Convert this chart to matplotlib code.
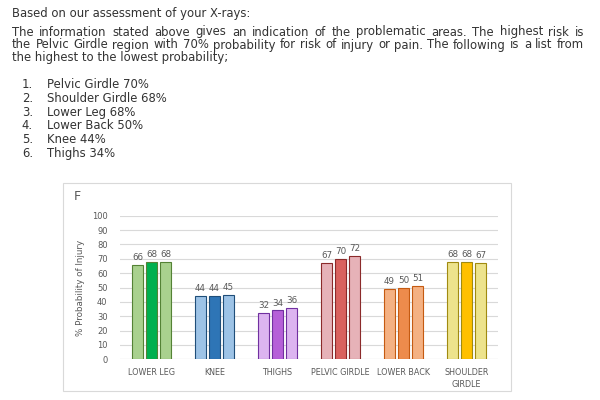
import numpy as np
import matplotlib
matplotlib.use('Agg')
import matplotlib.pyplot as plt
from matplotlib.patches import Rectangle

# 데이터
categories = ['LOWER LEG', 'KNEE', 'THIGHS', 'PELVIC GIRDLE', 'LOWER BACK', 'SHOULDER\nGIRDLE']
series_1 = [66, 44, 32, 67, 49, 68]
series_2 = [68, 44, 34, 70, 50, 68]
series_3 = [68, 45, 36, 72, 51, 67]

intro = 'Based on our assessment of your X-rays:'
paragraph = ['The information stated above gives an indication of the problematic areas. The highest risk is',
             'the Pelvic Girdle region with 70% probability for risk of injury or pain. The following is a list from',
             'the highest to the lowest probability;']
ranking = ['Pelvic Girdle 70%', 'Shoulder Girdle 68%', 'Lower Leg 68%',
           'Lower Back 50%', 'Knee 44%', 'Thighs 34%']

# 색상 (밝은색, 진한색, 테두리)
light = ['#a9d18e', '#9dc3e6', '#dcb4f0', '#e6b2b8', '#f4b183', '#ede38c']
dark = ['#00b050', '#2e75b6', '#b660d8', '#d9625e', '#ed8b4c', '#ffc000']
edge = ['#548235', '#1f4e79', '#7030a0', '#8b2a2a', '#c55a11', '#a08a10']

plt.rcParams['font.family'] = ['DejaVu Sans']
fig = plt.figure(figsize=(6, 4), dpi=100)
renderer = fig.canvas.get_renderer()

txt = '#333333'
fs = 8.4


def justify(line, y, x0=12, x1=584):
    # 단어별로 배치해서 양쪽 정렬
    words = line.split(' ')
    items = [fig.text(0, y, w, fontsize=fs, color=txt, va='center') for w in words]
    widths = [t.get_window_extent(renderer).width for t in items]
    gap = (x1 - x0 - sum(widths)) / (len(words) - 1)
    xpos = x0
    for t, wd in zip(items, widths):
        t.set_x(xpos / 600)
        xpos += wd + gap


# 상단 텍스트
fig.text(12 / 600, 1 - 13 / 400, intro, fontsize=fs, color=txt, va='center')
justify(paragraph[0], 1 - 32 / 400)
justify(paragraph[1], 1 - 45 / 400)
fig.text(12 / 600, 1 - 58 / 400, paragraph[2], fontsize=fs, color=txt, va='center')
for i, item in enumerate(ranking):
    y = 1 - (85 + 13.6 * i) / 400
    fig.text(33 / 600, y, '%d.' % (i + 1), fontsize=fs, color=txt, va='center', ha='right')
    fig.text(47 / 600, y, item, fontsize=fs, color=txt, va='center')

# 차트 박스
fig.patches.append(Rectangle((63 / 600, 1 - 391 / 400), 448 / 600, 208 / 400,
                             transform=fig.transFigure, fill=False,
                             edgecolor='#d9d9d9', linewidth=0.8))
fig.text(77 / 600, 1 - 197 / 400, 'F', fontsize=9, color='#595959', va='center', ha='center')

ax = fig.add_axes([120 / 600, 1 - 359.3 / 400, 378 / 600, 143.6 / 400])
x = np.arange(len(categories))
w = 0.18
step = 0.222
for j, vals in enumerate([series_1, series_2, series_3]):
    cols = dark if j == 1 else light
    bars = ax.bar(x + (j - 1) * step, vals, width=w, color=cols, edgecolor=edge, linewidth=0.8, zorder=3)
    for b, v in zip(bars, vals):
        ax.text(b.get_x() + b.get_width() / 2, v + 2, str(v), ha='center', va='bottom',
                fontsize=6.3, color='#595959')

ax.set_xlim(-0.5, len(categories) - 0.5)
ax.set_ylim(0, 100)
ax.set_yticks(range(0, 101, 10))
ax.set_xticks(x)
ax.set_xticklabels(categories, fontsize=5.8, color='#595959', linespacing=1.5)
ax.tick_params(axis='y', labelsize=6, labelcolor='#595959', length=0, pad=9)
ax.tick_params(axis='x', length=0, pad=6)
ax.grid(axis='y', color='#d9d9d9', linewidth=0.8, zorder=0)
for s in ax.spines.values():
    s.set_visible(False)
ax.axhline(0, color='#d9d9d9', linewidth=0.8, zorder=1)
ax.set_ylabel('% Probability of Injury', fontsize=6.3, color='#595959', labelpad=5)

plt.savefig('out.png', dpi=100)
